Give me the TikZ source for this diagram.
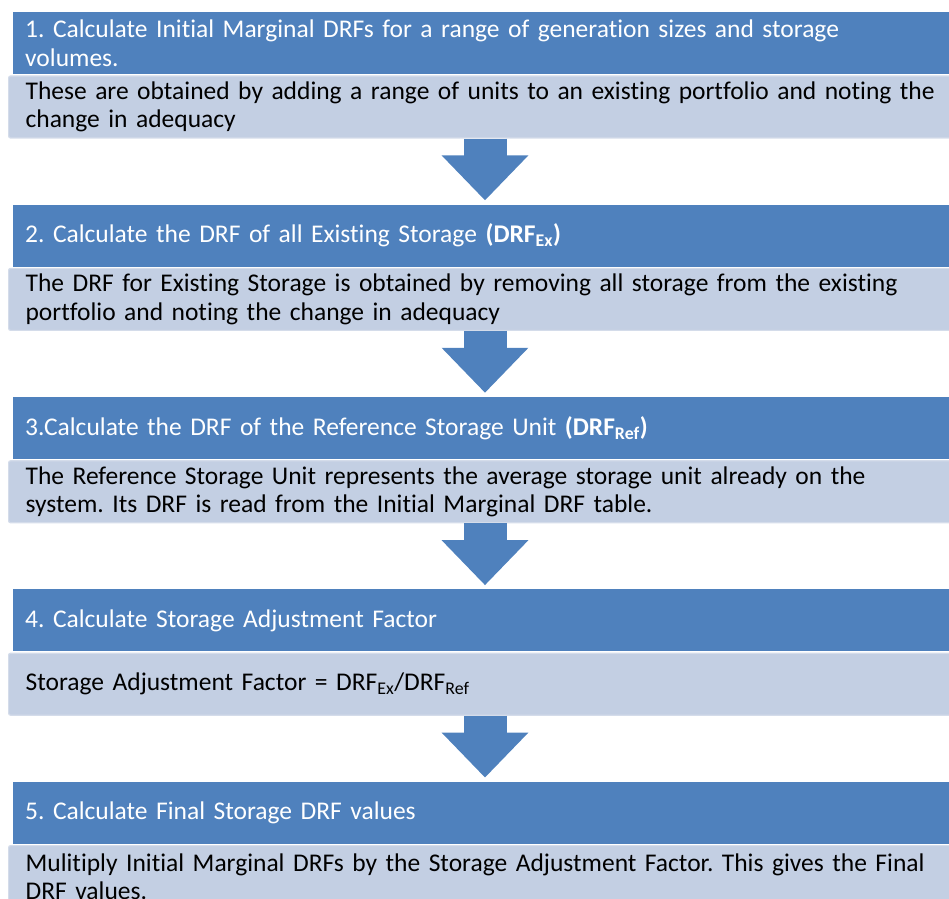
\documentclass[tikz,border=0pt]{standalone}
\usepackage{fontspec}
\setmainfont{Carlito}[Ligatures=NoCommon]
\usetikzlibrary{positioning,arrows.meta}
\definecolor{headblue}{RGB}{79,129,189}
\definecolor{bodyblue}{RGB}{195,207,227}
\definecolor{bodyedge}{RGB}{212,220,234}
\tikzset{
  head/.style={rectangle, fill=headblue, text=white, minimum height=62pt,
    text width=916pt, inner xsep=12pt, inner ysep=0pt, align=left,
    font=\fontsize{25.5}{29}\selectfont\frenchspacing},
  body/.style={rectangle, fill=bodyblue, draw=bodyedge, line width=1.2pt,
    rounded corners=2pt, minimum height=62pt, text width=911pt,
    inner xsep=17pt, inner ysep=0pt, align=left,
    font=\fontsize{25.5}{28.5}\selectfont\frenchspacing},
  flowarrow/.style={draw=headblue, line width=43pt,
    -{Triangle[width=84pt,length=45pt,fill=headblue]}, shorten >=4pt}
}
\begin{document}
\begin{tikzpicture}[x=1pt,y=1pt]
  \useasboundingbox (0,0) rectangle (949,898);
  \coordinate (ax) at (485,0);

  % step 1
  \node[head, anchor=north west] (h1) at (13,886)
    {1. Calculate Initial Marginal DRFs for a range of generation sizes and storage\\volumes.};
  \node[body, below right=1pt and -5pt of h1.south west] (b1)
    {These are obtained by adding a range of units to an existing portfolio and noting the\\change in adequacy};

  % step 2
  \node[head, below right=65.8pt and 5pt of b1.south west] (h2)
    {2. Calculate the DRF of all Existing Storage \textbf{(DRF\textsubscript{Ex})}};
  \node[body, below right=1pt and -5pt of h2.south west] (b2)
    {The DRF for Existing Storage is obtained by removing all storage from the existing\\portfolio and noting the change in adequacy};

  % step 3
  \node[head, below right=65.8pt and 5pt of b2.south west] (h3)
    {3.Calculate the DRF of the Reference Storage Unit \textbf{(DRF\textsubscript{Ref})}};
  \node[body, below right=1pt and -5pt of h3.south west] (b3)
    {The Reference Storage Unit represents the average storage unit already on the\\system. Its DRF is read from the Initial Marginal DRF table.};

  % step 4
  \node[head, below right=65.8pt and 5pt of b3.south west] (h4)
    {4. Calculate Storage Adjustment Factor};
  \node[body, below right=1pt and -5pt of h4.south west] (b4)
    {Storage Adjustment Factor = DRF\textsubscript{Ex}/DRF\textsubscript{Ref}};

  % step 5
  \node[head, below right=65.8pt and 5pt of b4.south west] (h5)
    {5. Calculate Final Storage DRF values};
  \node[body, below right=1pt and -5pt of h5.south west] (b5)
    {Mulitiply Initial Marginal DRFs by the Storage Adjustment Factor. This gives the Final\\DRF values.};

  % arrows between the steps
  \foreach \a/\b in {b1/h2, b2/h3, b3/h4, b4/h5}
    \draw[flowarrow] (\a.south -| ax) -- (\b.north -| ax);
\end{tikzpicture}
\end{document}
